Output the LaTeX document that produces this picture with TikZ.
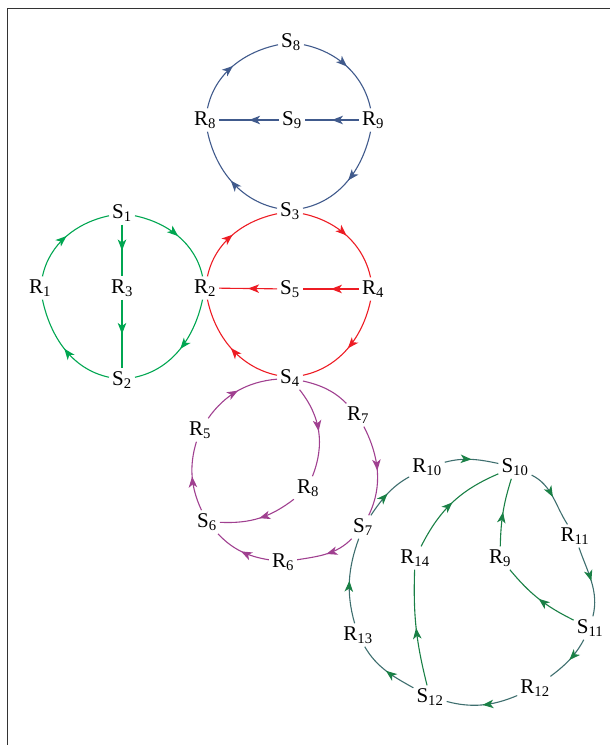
\documentclass[tikz,border=0pt]{standalone}
\usepackage{fontspec}
\setmainfont{Liberation Serif}
\usetikzlibrary{arrows.meta,decorations.markings}
\definecolor{blueC}{RGB}{64,90,140}
\definecolor{greenC}{RGB}{0,166,81}
\definecolor{redC}{RGB}{237,28,36}
\definecolor{purpleC}{RGB}{160,64,144}
\definecolor{tealC}{RGB}{62,110,110}
\definecolor{dgreenC}{RGB}{26,128,70}
\tikzset{
  lbl/.style={inner sep=3pt,font=\fontsize{21}{24}\selectfont},
  arc/.style={line width=1.1pt},
  circarc/.style={arc,looseness=0.95},
  midarr/.style={postaction={decorate},decoration={markings,
    mark=at position 0.5 with {\arrow{Stealth[length=11pt,width=8.5pt,inset=3pt]}}}},
  midarrg/.style={postaction={decorate},decoration={markings,
    mark=at position 0.5 with {\arrow{Stealth[length=11pt,width=8.5pt,inset=3pt,color=dgreenC]}}}},
}
\begin{document}
\begin{tikzpicture}[x=1pt,y=1pt]
\useasboundingbox (0,0) rectangle (610,-745);
% ramecek
\draw[black!80,line width=0.9pt] (7,-745) -- (7,-8) -- (610,-8);
% uzly: jmeno/pismeno/index/x/y
\foreach \n/\l/\i/\x/\y in {S8/S/8/291/42, bR8/R/8/205/120, S9/S/9/292/120, bR9/R/9/373/120, S3/S/3/290/211,
  S1/S/1/122/213, R1/R/1/40/288, R3/R/3/122/288, R2/R/2/205/288, S2/S/2/122/380,
  S5/S/5/290/289, R4/R/4/373/289, S4/S/4/290/378,
  R5/R/5/200/430, R7/R/7/358/415, pR8/R/8/308/488, S6/S/6/207/522, S7/S/7/363/527, R6/R/6/283/562,
  R10/R/10/427/467, S10/S/10/515/467, R11/R/11/575/536, S11/S/11/590/628, R12/R/12/535/688,
  S12/S/12/430/697, R13/R/13/358/635, R14/R/14/415/558, tR9/R/9/500/558}
  \node[lbl] (\n) at (\x,-\y) {\l\textsubscript{\i}};
% modry kruh (out/in = tecny kruznice u okraje uzlu)
\foreach \a/\b/\o/\e in {bR8/S8/78/192, S8/bR9/-12/102, bR9/S3/-102/12, S3/bR8/168/-78}
  \draw[circarc,blueC,midarr] (\a) to[out=\o,in=\e] (\b);
\foreach \a/\b in {bR9/S9, S9/bR8}
  \draw[arc,blueC,midarr] (\a) -- (\b);
% zeleny kruh
\foreach \a/\b/\o/\e in {R1/S1/78/192, S1/R2/-12/102, R2/S2/-102/12, S2/R1/168/-78}
  \draw[circarc,greenC,midarr] (\a) to[out=\o,in=\e] (\b);
\foreach \a/\b in {S1/R3, R3/S2}
  \draw[arc,greenC,midarr] (\a) -- (\b);
% cerveny kruh
\foreach \a/\b/\o/\e in {R2/S3/78/192, S3/R4/-12/102, R4/S4/-102/12, S4/R2/168/-78}
  \draw[circarc,redC,midarr] (\a) to[out=\o,in=\e] (\b);
\foreach \a/\b in {R4/S5, S5/R2}
  \draw[arc,redC,midarr] (\a) -- (\b);
% fialovy kruh
\draw[circarc,purpleC] (S4) to[out=-13,in=135] (R7);
\foreach \a/\b/\o/\e in {R7/S7/-63/64, S7/R6/-134/9, R6/S6/171/-47, S6/R5/115/253, R5/S4/55/185}
  \draw[circarc,purpleC,midarr] (\a) to[out=\o,in=\e] (\b);
\foreach \a/\b/\k in {S4/pR8/30, pR8/S6/20}
  \draw[arc,purpleC,midarr] (\a) to[bend left=\k] (\b);
% tyrkysovy kruh
\foreach \a/\b/\o/\e in {S7/R10/56/209, R10/S10/15/168, S10/R11/-26/123, R11/S11/-71/76,
  S11/R12/-118/37, R12/S12/-157/-15, S12/R13/151/-60, R13/S7/106/-110}
  \draw[circarc,tealC,midarrg] (\a) to[out=\o,in=\e] (\b);
\foreach \a/\b/\k in {S12/R14/8, R14/S10/20, S11/tR9/12, tR9/S10/8}
  \draw[arc,dgreenC,midarr] (\a) to[bend left=\k] (\b);
\end{tikzpicture}
\end{document}
